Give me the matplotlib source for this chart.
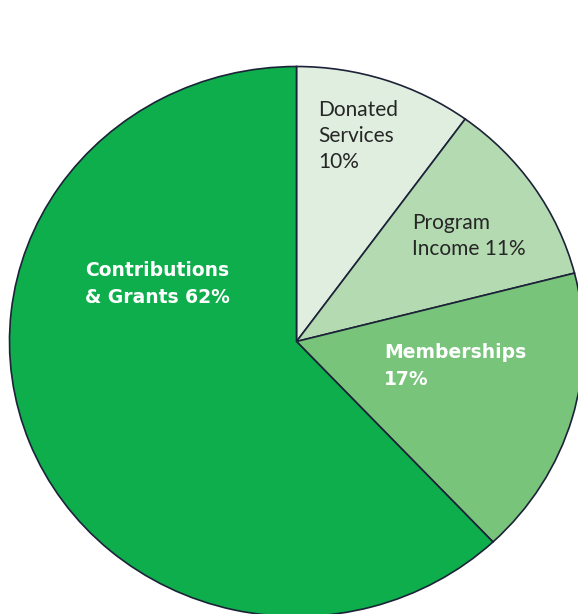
import matplotlib
matplotlib.use('Agg')
import matplotlib.pyplot as plt

labels = ['Donated\nServices\n10%', 'Program\nIncome 11%', 'Memberships\n17%', 'Contributions\n& Grants 62%']
values = [10, 11, 17, 62]
colors = ['#DFEEDE', '#B3DAB0', '#79C47B', '#0DAE4B']
text_colors = ['#262626', '#262626', 'white', 'white']
weights = ['normal', 'normal', 'bold', 'bold']

W, H = 578, 614
# pie centre and radii in pixels (slightly squashed vertically, like the original)
cx, cy, rx, ry = 296.5, 341.5, 287, 275

fig = plt.figure(figsize=(W / 100, H / 100), dpi=100)
ax = fig.add_axes([0, 0, 1, 1])
ax.pie(values, colors=colors, startangle=90, counterclock=False, radius=1,
       wedgeprops=dict(edgecolor='#1c2238', linewidth=1.2))
ax.set_xlim(-cx / rx, (W - cx) / rx)
ax.set_ylim((cy - H) / ry, cy / ry)
ax.set_aspect('auto')
ax.axis('off')


def px(x, y):
    return (x - cx) / rx, (cy - y) / ry


# label anchor (left edge, vertical centre) in pixels
label_pos = [(318, 136), (412, 236), (384, 366), (85, 284)]
for lab, (x, y), c, w in zip(labels, label_pos, text_colors, weights):
    if w == 'bold':
        ax.text(*px(x, y), lab, ha='left', va='center', color=c, fontweight=w,
                fontsize=13.5, family='DejaVu Sans', linespacing=1.5)
    else:
        ax.text(*px(x, y), lab, ha='left', va='center', color=c, fontweight=w,
                fontsize=15, family='Lato', linespacing=1.38)

fig.savefig('out.png', dpi=100)
